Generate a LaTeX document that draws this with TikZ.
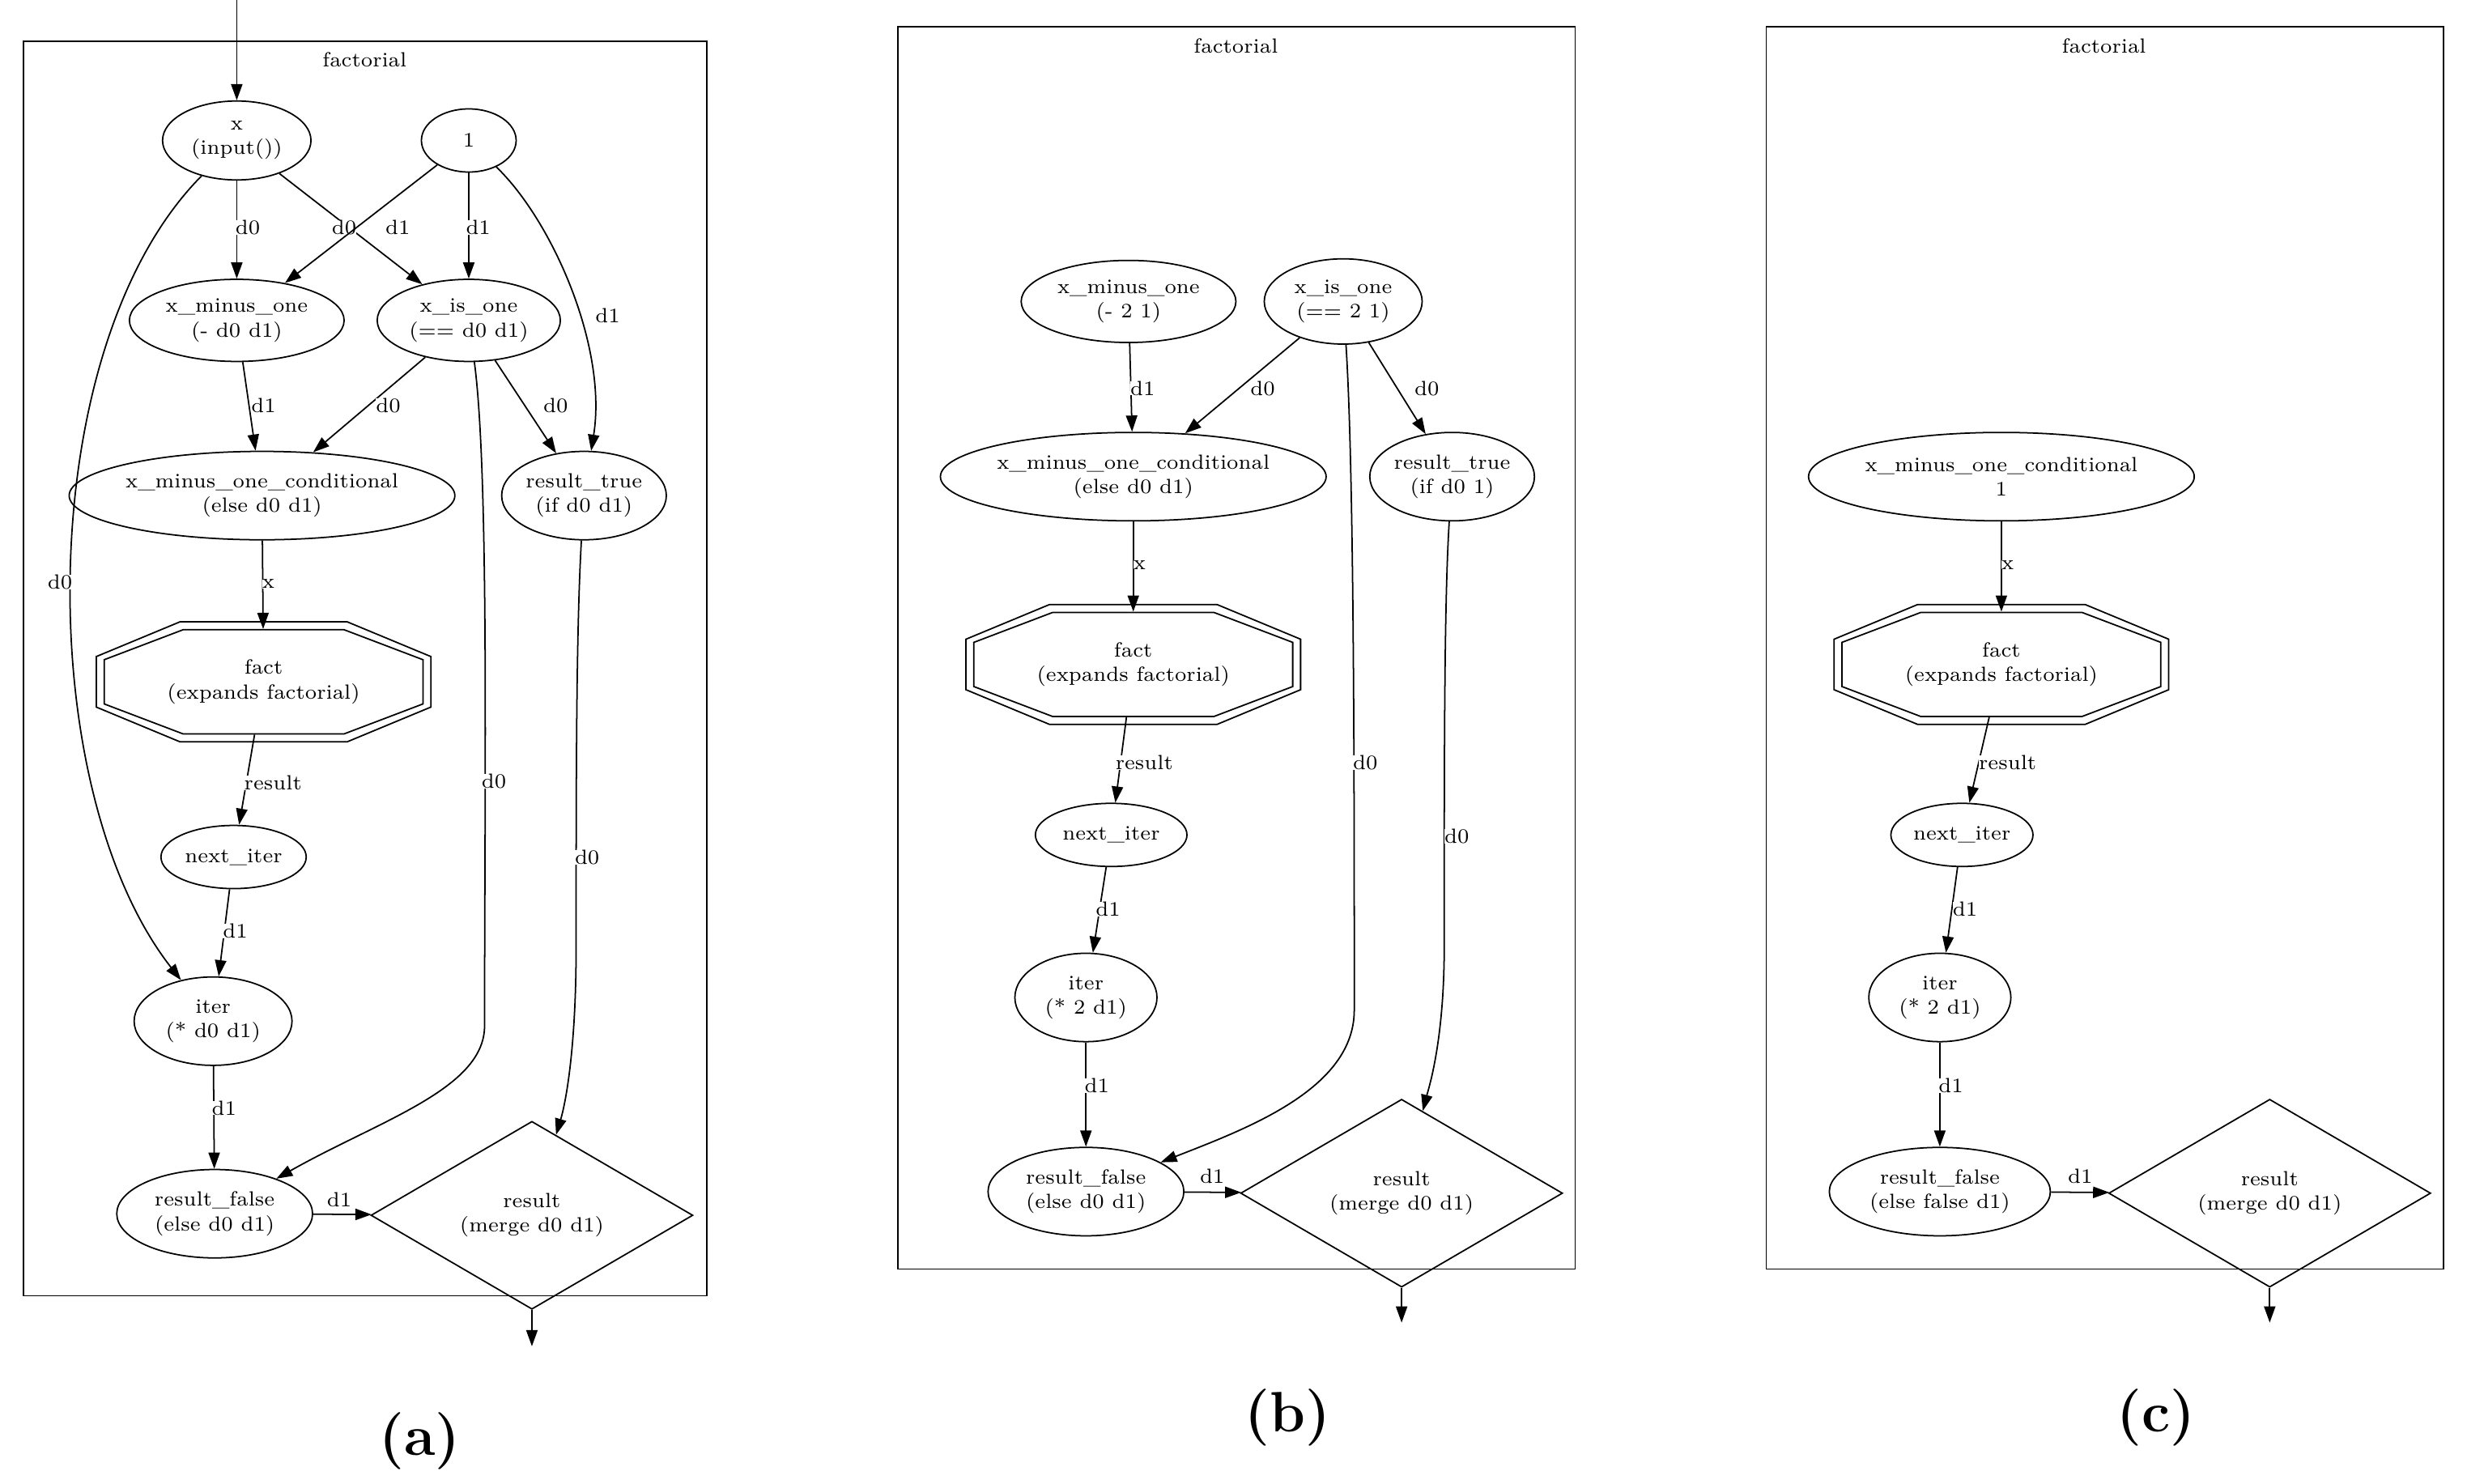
\documentclass[tikz,border=0pt]{standalone}
\usetikzlibrary{shapes.geometric,arrows.meta}
\begin{document}
\begin{tikzpicture}[x=0.01949cm,y=-0.01949cm,line width=0.5pt,
  every node/.style={font=\fontsize{7.2}{8.6}\selectfont,align=center},
  E/.style 2 args={draw,ellipse,inner sep=0pt,minimum width=#1*0.03898cm,minimum height=#2*0.03898cm},
  D/.style={draw,diamond,inner sep=0pt,minimum width=204*0.01949cm,minimum height=82*0.01949cm},
  O/.style={inner sep=0pt,minimum width=204*0.01949cm,minimum height=66*0.01949cm},
  box/.style={draw},
  a/.style={-{Triangle[length=0.2cm,width=0.14cm]}},
  lb/.style={inner sep=0pt,fill=white},
  capt/.style={font=\fontsize{20}{24}\selectfont\bfseries}]
\useasboundingbox (0,0) rectangle (1563,940);
\newcommand\octo[3]{% name x y
  \foreach \s in {0,5}{
   \draw ({#2-51-\s*0.4},{#3-33-\s}) -- ({#2+51+\s*0.4},{#3-33-\s}) -- ({#2+101+\s},{#3-14-\s*0.4}) -- ({#2+101+\s},{#3+14+\s*0.4})
     -- ({#2+51+\s*0.4},{#3+33+\s}) -- ({#2-51-\s*0.4},{#3+33+\s}) -- ({#2-101-\s},{#3+14+\s*0.4}) -- ({#2-101-\s},{#3-14-\s*0.4}) -- cycle;}}
%================ (a)
\draw[box] (15,26) rectangle (448,821);
\node (ta) at (231,38) {factorial};
\node[E={47}{25}] (x) at (150,89) {x\\(input())};
\node[E={30}{20}] (one) at (297,89) {1};
\node[E={68}{26}] (xm) at (150,203) {x\_minus\_one\\(- d0 d1)};
\node[E={58}{26}] (xi) at (297,203) {x\_is\_one\\(== d0 d1)};
\node[E={120}{28}] (xc) at (166,314) {x\_minus\_one\_conditional\\(else d0 d1)};
\node[E={44}{28}] (rt) at (370,314) {result\_true\\(if d0 d1)};
\octo{fa}{167}{432}
\node[O] (fa) at (167,432) {fact\\(expands factorial)};
\node[E={46}{20}] (ni) at (148,543) {next\_iter};
\node[E={50}{28}] (it) at (135,647) {iter\\(* d0 d1)};
\node[E={62}{28}] (rf) at (136,769) {result\_false\\(else d0 d1)};
\node[D] (rs) at (337,770) {result\\(merge d0 d1)};
\coordinate (ina) at (150,0); \coordinate (outa) at (337,853);
\draw[a] (ina) -- (x);
\draw[a] (rs) -- (outa);
\draw[a] (x) -- (xm); \node[lb] (l1) at (157,144) {d0};
\draw[a] (x) -- (xi); \node[lb] (l2) at (218,144) {d0};
\draw[a] (one) -- (xm); \node[lb] (l3) at (252,144) {d1};
\draw[a] (one) -- (xi); \node[lb] (l4) at (303,144) {d1};
\draw[a] (one) .. controls (350,140) and (385,220) .. (rt); \node[lb] (l5) at (385,200) {d1};
\draw[a] (x) .. controls (20,220) and (20,500) .. (it); \node[lb] (l6) at (38,369) {d0};
\draw[a] (xm) -- (xc); \node[lb] (l7) at (167,257) {d1};
\draw[a] (xi) -- (xc); \node[lb] (l8) at (246,257) {d0};
\draw[a] (xi) -- (rt); \node[lb] (l9) at (352,257) {d0};
\draw[a] (xi) .. controls (310,300) and (307,500) .. (307,650) .. controls (307,690) and (240,710) .. (rf); \node[lb] (l10) at (313,495) {d0};
\draw[a] (rt) .. controls (365,400) and (365,500) .. (365,600) .. controls (365,680) and (355,710) .. (rs); \node[lb] (l11) at (372,543) {d0};
\draw[a] (xc) -- (fa); \node[lb] (l12) at (170,370) {x};
\draw[a] (fa) -- (ni); \node[lb] (l13) at (173,496) {result};
\draw[a] (ni) -- (it); \node[lb] (l14) at (149,590) {d1};
\draw[a] (it) -- (rf); \node[lb] (l15) at (142,702) {d1};
\draw[a] (rf) -- (rs); \node[lb] (l16) at (215,760) {d1};
\node[capt] (ca) at (266,913) {(a)};
%================ (b)
\draw[box] (569,17) rectangle (998,804);
\node (tb) at (783,29) {factorial};
\node[E={68}{26}] (bxm) at (715,191) {x\_minus\_one\\(- 2 1)};
\node[E={50}{27}] (bxi) at (851,191) {x\_is\_one\\(== 2 1)};
\node[E={120}{28}] (bxc) at (718,302) {x\_minus\_one\_conditional\\(else d0 d1)};
\node[E={44}{28}] (brt) at (920,302) {result\_true\\(if d0 1)};
\octo{bfa}{718}{421}
\node[O] (bfa) at (718,421) {fact\\(expands factorial)};
\node[E={48}{20}] (bni) at (704,529) {next\_iter};
\node[E={45}{28}] (bit) at (688,632) {iter\\(* 2 d1)};
\node[E={62}{28}] (brf) at (688,755) {result\_false\\(else d0 d1)};
\node[D] (brs) at (888,756) {result\\(merge d0 d1)};
\coordinate (outb) at (888,838);
\draw[a] (brs) -- (outb);
\draw[a] (bxm) -- (bxc); \node[lb] (m1) at (724,246) {d1};
\draw[a] (bxi) -- (bxc); \node[lb] (m2) at (800,246) {d0};
\draw[a] (bxi) -- (brt); \node[lb] (m3) at (904,246) {d0};
\draw[a] (bxi) .. controls (858,300) and (858,500) .. (858,640) .. controls (858,690) and (790,715) .. (brf); \node[lb] (m4) at (865,483) {d0};
\draw[a] (brt) .. controls (915,380) and (915,480) .. (915,600) .. controls (915,660) and (905,690) .. (brs); \node[lb] (m5) at (923,530) {d0};
\draw[a] (bxc) -- (bfa); \node[lb] (m6) at (722,358) {x};
\draw[a] (bfa) -- (bni); \node[lb] (m7) at (725,483) {result};
\draw[a] (bni) -- (bit); \node[lb] (m8) at (702,576) {d1};
\draw[a] (bit) -- (brf); \node[lb] (m9) at (695,688) {d1};
\draw[a] (brf) -- (brs); \node[lb] (m10) at (768,745) {d1};
\node[capt] (cb) at (816,898) {(b)};
%================ (c)
\draw[box] (1119,17) rectangle (1548,804);
\node (tc) at (1333,29) {factorial};
\node[E={120}{28}] (cxc) at (1268,302) {x\_minus\_one\_conditional\\1};
\octo{cfa}{1268}{421}
\node[O] (cfa) at (1268,421) {fact\\(expands factorial)};
\node[E={45}{20}] (cni) at (1243,529) {next\_iter};
\node[E={45}{28}] (cit) at (1229,632) {iter\\(* 2 d1)};
\node[E={70}{28}] (crf) at (1229,755) {result\_false\\(else false d1)};
\node[D] (crs) at (1438,756) {result\\(merge d0 d1)};
\coordinate (outc) at (1438,838);
\draw[a] (crs) -- (outc);
\draw[a] (cxc) -- (cfa); \node[lb] (n1) at (1272,358) {x};
\draw[a] (cfa) -- (cni); \node[lb] (n2) at (1272,483) {result};
\draw[a] (cni) -- (cit); \node[lb] (n3) at (1245,576) {d1};
\draw[a] (cit) -- (crf); \node[lb] (n4) at (1236,688) {d1};
\draw[a] (crf) -- (crs); \node[lb] (n5) at (1318,745) {d1};
\node[capt] (cc) at (1366,898) {(c)};
\end{tikzpicture}
\end{document}
